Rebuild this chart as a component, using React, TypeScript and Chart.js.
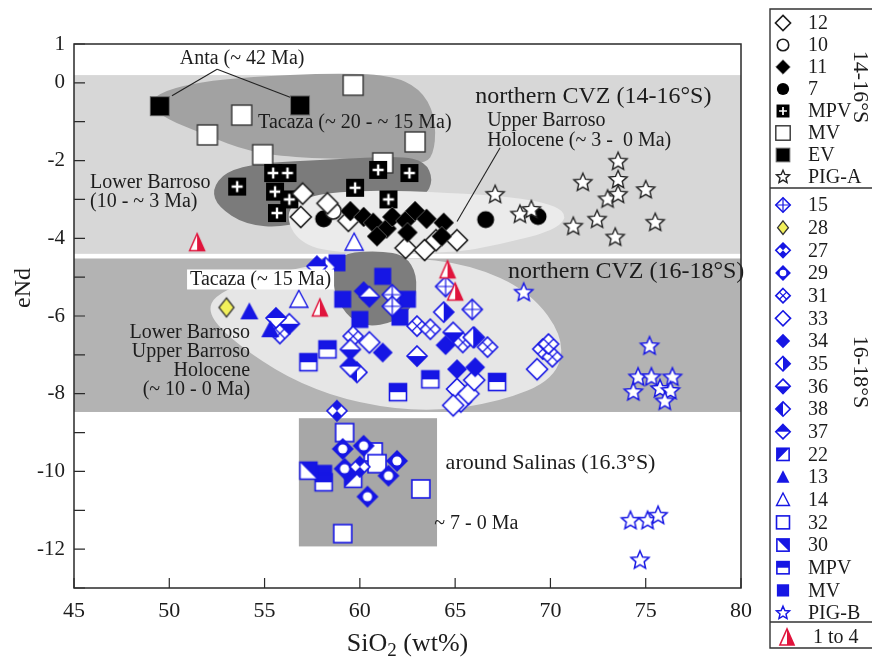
import React, { useEffect, useRef } from "react";
import { Chart, registerables } from "chart.js";
Chart.register(...registerables);

type Pt = [number, number];

const X_MIN = 45, X_MAX = 80, Y_MIN = -13, Y_MAX = 1;
const X_TICKS = [45, 50, 55, 60, 65, 70, 75, 80];
const Y_TICKS = [1, 0, -1, -2, -3, -4, -5, -6, -7, -8, -9, -10, -11, -12, -13];
const Y_TICK_LABELS = [1, 0, -2, -4, -6, -8, -10, -12];

// ---- 14-16°S ----
const S12: Pt[] = [[57.0, -2.85], [56.9, -3.45], [58.3, -3.1], [59.4, -3.55], [62.4, -4.25], [63.4, -4.3], [64.0, -4.05], [65.1, -4.05]];
const S10: Pt[] = [[58.6, -3.3]];
const S11: Pt[] = [[59.5, -3.3], [60.2, -3.45], [60.7, -3.6], [61.4, -3.75], [61.7, -3.45], [62.4, -3.55], [62.5, -3.85], [62.9, -3.3], [63.5, -3.5], [64.4, -3.6], [64.3, -3.95], [60.9, -3.95]];
const S7: Pt[] = [[58.1, -3.5], [66.6, -3.52], [69.35, -3.44]];
const MPV_A: Pt[] = [[53.56, -2.67], [55.45, -2.32], [56.2, -2.32], [55.55, -2.8], [56.3, -3.0], [55.65, -3.35], [59.75, -2.7], [60.96, -2.24], [61.5, -3.0], [62.6, -2.32]];
const MV_A: Pt[] = [[59.65, -0.06], [53.8, -0.83], [52.0, -1.34], [54.9, -1.85], [61.2, -2.06], [62.9, -1.52]];
const EV_A: Pt[] = [[49.5, -0.6], [56.86, -0.58]];
const PIG_A: Pt[] = [[67.1, -2.88], [68.4, -3.39], [69.0, -3.27], [71.7, -2.57], [71.2, -3.7], [72.45, -3.52], [73.55, -2.03], [73.55, -2.5], [73.0, -3.0], [73.55, -2.88], [75.0, -2.76], [75.5, -3.6], [73.4, -3.98]];

// ---- 16-18°S ----
const S15: Pt[] = [[61.7, -5.45], [61.7, -5.75], [64.5, -5.24], [65.9, -5.83]];
const S28: Pt[] = [[53.0, -5.78]];
const S27: Pt[] = [[58.8, -8.44], [60.0, -9.88]];
const S29: Pt[] = [[59.1, -9.42], [60.2, -9.34], [59.2, -9.93], [61.95, -9.73], [61.5, -10.11], [60.4, -10.65]];
const S31: Pt[] = [[55.8, -6.45], [59.65, -6.52], [63.0, -6.26], [63.7, -6.34], [65.4, -6.68], [66.0, -6.55], [66.7, -6.8], [69.6, -6.85], [70.1, -7.05], [69.9, -6.72]];
const S33: Pt[] = [[60.5, -6.68], [69.3, -7.37], [65.1, -7.88], [65.3, -8.2], [65.7, -8.0], [66.0, -7.65], [64.9, -8.3]];
const S34: Pt[] = [[60.2, -5.36], [61.2, -6.94], [65.1, -7.37], [66.05, -7.32], [64.5, -6.75]];
const S35: Pt[] = [[64.4, -5.9], [65.95, -6.55]];
const S36: Pt[] = [[60.5, -5.5], [59.5, -6.86], [63.0, -7.03], [64.9, -6.42], [56.3, -6.2]];
const S38: Pt[] = [[59.85, -7.45], [58.2, -4.75]];
const S37: Pt[] = [[57.75, -4.72], [59.5, -7.3], [55.6, -6.05]];
const S22: Pt[] = [[59.65, -10.19]];
const S13: Pt[] = [[54.2, -5.88], [55.3, -6.34]];
const S14: Pt[] = [[56.8, -5.57], [59.7, -4.1]];
const S32: Pt[] = [[59.2, -9.0], [60.7, -9.5], [60.9, -9.8], [63.2, -10.45], [59.1, -11.6]];
const S30: Pt[] = [[57.3, -9.98]];
const MPV_B: Pt[] = [[57.3, -7.19], [58.3, -6.86], [63.7, -7.63], [62.0, -7.96], [67.2, -7.7], [58.1, -10.28]];
const MV_B: Pt[] = [[58.8, -4.63], [61.2, -4.98], [59.1, -5.57], [60.0, -6.09], [62.5, -5.57], [62.1, -6.03], [58.1, -10.05]];
const PIG_B: Pt[] = [[68.6, -5.4], [75.2, -6.78], [74.6, -7.58], [75.3, -7.58], [76.4, -7.58], [74.35, -7.96], [75.75, -7.88], [76.3, -7.93], [76.0, -8.2], [74.2, -11.27], [75.1, -11.27], [75.65, -11.14], [74.7, -12.29]];
const RED_1_4: Pt[] = [[51.46, -4.1], [64.6, -4.8], [65.0, -5.37], [57.9, -5.78]];

// ---- field outlines (data units) ----
const BAND_NORTH: Pt[] = [[45, 0.2], [80, 0.2], [80, -4.4], [45, -4.4]];
const BAND_SOUTH: Pt[] = [[45, -4.52], [80, -4.52], [80, -8.47], [45, -8.47]];
const SALINAS_BOX: Pt[] = [[56.8, -8.63], [64.05, -8.63], [64.05, -11.93], [56.8, -11.93]];
const TACAZA_OLD: Pt[] = [[48.83, -0.52], [49.78, -0.19], [51.61, 0.02], [54.24, 0.15], [58.44, 0.25], [61.59, 0.2], [63.16, -0.14], [63.95, -0.83], [63.95, -1.73], [63.43, -2.11], [61.06, -1.98], [56.86, -1.93], [54.24, -1.78], [51.88, -1.34], [49.78, -0.91]];
const LOWER_BARROSO: Pt[] = [[52.24, -2.75], [52.93, -2.29], [54.76, -2.06], [58.44, -1.98], [62.11, -1.88], [63.43, -2.03], [63.85, -2.49], [63.43, -2.93], [61.59, -3.14], [58.44, -3.32], [56.08, -3.73], [53.98, -3.65], [52.56, -3.19]];
const UPPER_BARROSO: Pt[] = [[56.08, -3.27], [57.39, -2.88], [60.54, -2.75], [64.74, -2.83], [67.89, -2.93], [70.25, -3.14], [70.93, -3.47], [69.99, -3.83], [67.36, -4.16], [64.74, -4.39], [58.44, -4.39], [56.6, -4.03]];
const SOUTH_FIELD: Pt[] = [[52.03, -5.7], [52.93, -5.32], [55.29, -4.93], [58.44, -4.6], [62.11, -4.47], [65.79, -4.67], [68.94, -5.37], [70.77, -6.6], [70.25, -7.63], [67.36, -8.21], [63.69, -8.47], [60.01, -8.26], [56.86, -7.75], [54.24, -6.98], [52.4, -6.21]];
const TACAZA_YOUNG: Pt[] = [[58.6, -4.67], [59.23, -4.37], [61.06, -4.32], [62.38, -4.44], [63.01, -4.93], [62.9, -5.7], [61.85, -6.16], [60.28, -6.29], [59.23, -5.96], [58.6, -5.32]];

const FONT = '"Liberation Serif", "Times New Roman", serif';
const BLUE = "#1616e4";
const RED = "#e0143c";
const INK = "#1c1c1c";

function diamond(ctx: CanvasRenderingContext2D, cx: number, cy: number, rx: number, ry: number) {
  ctx.beginPath();
  ctx.moveTo(cx, cy - ry);
  ctx.lineTo(cx + rx, cy);
  ctx.lineTo(cx, cy + ry);
  ctx.lineTo(cx - rx, cy);
  ctx.closePath();
}
function starPath(ctx: CanvasRenderingContext2D, cx: number, cy: number, R: number, r: number) {
  ctx.beginPath();
  for (let i = 0; i < 10; i++) {
    const a = -Math.PI / 2 + (i * Math.PI) / 5;
    const rr = i % 2 === 0 ? R : r;
    const x = cx + rr * Math.cos(a), y = cy + rr * Math.sin(a);
    if (i === 0) ctx.moveTo(x, y); else ctx.lineTo(x, y);
  }
  ctx.closePath();
}
function halfDiamond(ctx: CanvasRenderingContext2D, cx: number, cy: number, r: number, side: string) {
  diamond(ctx, cx, cy, r, r);
  ctx.fillStyle = "#fff";
  ctx.fill();
  ctx.save();
  diamond(ctx, cx, cy, r, r);
  ctx.clip();
  ctx.fillStyle = BLUE;
  if (side === "right") ctx.fillRect(cx, cy - r, r, 2 * r);
  if (side === "left") ctx.fillRect(cx - r, cy - r, r, 2 * r);
  if (side === "top") ctx.fillRect(cx - r, cy - r, 2 * r, r);
  if (side === "bottom") ctx.fillRect(cx - r, cy, 2 * r, r);
  ctx.restore();
  diamond(ctx, cx, cy, r, r);
  ctx.strokeStyle = BLUE;
  ctx.stroke();
}

function drawMarker(ctx: CanvasRenderingContext2D, kind: string, cx: number, cy: number, k = 1) {
  ctx.save();
  ctx.lineJoin = "miter";
  ctx.lineWidth = 1.6;
  const r = 10 * k;
  switch (kind) {
    case "k12":
      diamond(ctx, cx, cy, 10.5 * k, 10.5 * k);
      ctx.fillStyle = "#fff"; ctx.fill();
      ctx.strokeStyle = INK; ctx.stroke();
      break;
    case "k10":
      ctx.beginPath(); ctx.arc(cx, cy, 8 * k, 0, Math.PI * 2);
      ctx.fillStyle = "#fff"; ctx.fill(); ctx.strokeStyle = INK; ctx.stroke();
      break;
    case "k11":
      diamond(ctx, cx, cy, 10 * k, 10 * k);
      ctx.fillStyle = "#000"; ctx.fill();
      ctx.strokeStyle = "#555"; ctx.lineWidth = 1; ctx.stroke();
      break;
    case "k7":
      ctx.beginPath(); ctx.arc(cx, cy, 8.5 * k, 0, Math.PI * 2);
      ctx.fillStyle = "#000"; ctx.fill();
      break;
    case "kMPV": {
      const s = 18 * k;
      ctx.fillStyle = "#000"; ctx.fillRect(cx - s / 2, cy - s / 2, s, s);
      ctx.strokeStyle = "#fff"; ctx.lineWidth = 2.4 * k;
      ctx.beginPath();
      ctx.moveTo(cx - 5.5 * k, cy); ctx.lineTo(cx + 5.5 * k, cy);
      ctx.moveTo(cx, cy - 5.5 * k); ctx.lineTo(cx, cy + 5.5 * k);
      ctx.stroke();
      break;
    }
    case "kMV": {
      const s = 20 * k;
      ctx.fillStyle = "#fff"; ctx.fillRect(cx - s / 2, cy - s / 2, s, s);
      ctx.strokeStyle = "#333"; ctx.lineWidth = 1.4; ctx.strokeRect(cx - s / 2, cy - s / 2, s, s);
      break;
    }
    case "kEV": {
      const s = 19 * k;
      ctx.fillStyle = "#000"; ctx.fillRect(cx - s / 2, cy - s / 2, s, s);
      ctx.strokeStyle = "#666"; ctx.lineWidth = 1; ctx.strokeRect(cx - s / 2, cy - s / 2, s, s);
      break;
    }
    case "kPIG":
      starPath(ctx, cx, cy, 9.5 * k, 4.4 * k);
      ctx.fillStyle = "#fff"; ctx.fill(); ctx.strokeStyle = "#222"; ctx.lineWidth = 1.4; ctx.stroke();
      break;
    case "b15":
      diamond(ctx, cx, cy, r, r);
      ctx.fillStyle = "#fff"; ctx.fill(); ctx.strokeStyle = BLUE; ctx.stroke();
      ctx.lineWidth = 1.2;
      ctx.beginPath();
      ctx.moveTo(cx - r, cy); ctx.lineTo(cx + r, cy);
      ctx.moveTo(cx, cy - r); ctx.lineTo(cx, cy + r);
      ctx.stroke();
      break;
    case "b28":
      diamond(ctx, cx, cy, 7.5 * k, 9.5 * k);
      ctx.fillStyle = "#f2f05a"; ctx.fill(); ctx.strokeStyle = "#333"; ctx.lineWidth = 1.3; ctx.stroke();
      break;
    case "b27":
      diamond(ctx, cx, cy, r, r);
      ctx.fillStyle = "#fff"; ctx.fill();
      ctx.fillStyle = BLUE;
      ctx.beginPath();
      ctx.moveTo(cx, cy); ctx.lineTo(cx - r / 2, cy - r / 2); ctx.lineTo(cx, cy - r); ctx.lineTo(cx + r / 2, cy - r / 2); ctx.closePath();
      ctx.moveTo(cx, cy); ctx.lineTo(cx - r / 2, cy + r / 2); ctx.lineTo(cx, cy + r); ctx.lineTo(cx + r / 2, cy + r / 2); ctx.closePath();
      ctx.fill();
      diamond(ctx, cx, cy, r, r);
      ctx.strokeStyle = BLUE; ctx.stroke();
      break;
    case "b29":
      diamond(ctx, cx, cy, 11 * k, 11 * k);
      ctx.fillStyle = BLUE; ctx.fill();
      ctx.beginPath(); ctx.arc(cx, cy, 4.6 * k, 0, Math.PI * 2);
      ctx.fillStyle = "#fff"; ctx.fill();
      break;
    case "b31":
      diamond(ctx, cx, cy, r, r);
      ctx.fillStyle = "#fff"; ctx.fill(); ctx.strokeStyle = BLUE; ctx.stroke();
      ctx.lineWidth = 1.2;
      ctx.beginPath();
      ctx.moveTo(cx - r / 2, cy - r / 2); ctx.lineTo(cx + r / 2, cy + r / 2);
      ctx.moveTo(cx + r / 2, cy - r / 2); ctx.lineTo(cx - r / 2, cy + r / 2);
      ctx.stroke();
      break;
    case "b33":
      diamond(ctx, cx, cy, 10.5 * k, 10.5 * k);
      ctx.fillStyle = "#fff"; ctx.fill(); ctx.strokeStyle = BLUE; ctx.stroke();
      break;
    case "b34":
      diamond(ctx, cx, cy, r, r);
      ctx.fillStyle = BLUE; ctx.fill();
      break;
    case "b35": halfDiamond(ctx, cx, cy, r, "right"); break;
    case "b36": halfDiamond(ctx, cx, cy, r, "bottom"); break;
    case "b38": halfDiamond(ctx, cx, cy, r, "left"); break;
    case "b37": halfDiamond(ctx, cx, cy, r, "top"); break;
    case "b22":
    case "b30": {
      const s = 17 * k, x0 = cx - s / 2, y0 = cy - s / 2;
      ctx.fillStyle = "#fff"; ctx.fillRect(x0, y0, s, s);
      ctx.fillStyle = BLUE;
      ctx.beginPath();
      if (kind === "b22") { ctx.moveTo(x0, y0); ctx.lineTo(x0 + s, y0); ctx.lineTo(x0, y0 + s); }
      else { ctx.moveTo(x0, y0); ctx.lineTo(x0 + s, y0); ctx.lineTo(x0 + s, y0 + s); }
      ctx.closePath(); ctx.fill();
      ctx.strokeStyle = BLUE; ctx.strokeRect(x0, y0, s, s);
      break;
    }
    case "b13":
    case "b14": {
      const w = 18 * k, h = 16 * k;
      ctx.beginPath(); ctx.moveTo(cx, cy - h / 2 - 1); ctx.lineTo(cx + w / 2, cy + h / 2); ctx.lineTo(cx - w / 2, cy + h / 2); ctx.closePath();
      if (kind === "b13") { ctx.fillStyle = BLUE; ctx.fill(); }
      else { ctx.fillStyle = "#fff"; ctx.fill(); ctx.strokeStyle = BLUE; ctx.lineWidth = 1.4; ctx.stroke(); }
      break;
    }
    case "b32": {
      const s = 18 * k;
      ctx.fillStyle = "#fff"; ctx.fillRect(cx - s / 2, cy - s / 2, s, s);
      ctx.strokeStyle = BLUE; ctx.strokeRect(cx - s / 2, cy - s / 2, s, s);
      break;
    }
    case "bMPV": {
      const s = 17 * k;
      ctx.fillStyle = "#fff"; ctx.fillRect(cx - s / 2, cy - s / 2, s, s);
      ctx.fillStyle = BLUE; ctx.fillRect(cx - s / 2, cy - s / 2, s, s / 2);
      ctx.strokeStyle = BLUE; ctx.strokeRect(cx - s / 2, cy - s / 2, s, s);
      break;
    }
    case "bMV": {
      const s = 17 * k;
      ctx.fillStyle = BLUE; ctx.fillRect(cx - s / 2, cy - s / 2, s, s);
      break;
    }
    case "bPIG":
      starPath(ctx, cx, cy, 9.5 * k, 4.4 * k);
      ctx.fillStyle = "#fff"; ctx.fill(); ctx.strokeStyle = BLUE; ctx.lineWidth = 1.5; ctx.stroke();
      break;
    case "r14": {
      const w = 15 * k, h = 17 * k;
      const top = cy - h / 2, bot = cy + h / 2;
      ctx.beginPath(); ctx.moveTo(cx, top); ctx.lineTo(cx + w / 2, bot); ctx.lineTo(cx - w / 2, bot); ctx.closePath();
      ctx.fillStyle = "#fff"; ctx.fill();
      ctx.beginPath(); ctx.moveTo(cx, top); ctx.lineTo(cx + w / 2, bot); ctx.lineTo(cx, bot); ctx.closePath();
      ctx.fillStyle = RED; ctx.fill();
      ctx.beginPath(); ctx.moveTo(cx, top); ctx.lineTo(cx + w / 2, bot); ctx.lineTo(cx - w / 2, bot); ctx.closePath();
      ctx.strokeStyle = RED; ctx.lineWidth = 1.5; ctx.stroke();
      break;
    }
  }
  ctx.restore();
}

function markerImage(kind: string) {
  const c = document.createElement("canvas");
  c.width = 30; c.height = 30;
  const g = c.getContext("2d")!;
  drawMarker(g, kind, 15, 15);
  return c;
}

// draw order: first listed = bottom
const SERIES: { kind: string; label: string; pts: Pt[] }[] = [
  { kind: "kMV", label: "MV", pts: MV_A },
  { kind: "kEV", label: "EV", pts: EV_A },
  { kind: "kMPV", label: "MPV", pts: MPV_A },
  { kind: "k7", label: "7", pts: S7 },
  { kind: "k10", label: "10", pts: S10 },
  { kind: "k12", label: "12", pts: S12 },
  { kind: "k11", label: "11", pts: S11 },
  { kind: "kPIG", label: "PIG-A", pts: PIG_A },
  { kind: "bMV", label: "MV", pts: MV_B },
  { kind: "bMPV", label: "MPV", pts: MPV_B },
  { kind: "b32", label: "32", pts: S32 },
  { kind: "b30", label: "30", pts: S30 },
  { kind: "b22", label: "22", pts: S22 },
  { kind: "b33", label: "33", pts: S33 },
  { kind: "b31", label: "31", pts: S31 },
  { kind: "b34", label: "34", pts: S34 },
  { kind: "b35", label: "35", pts: S35 },
  { kind: "b36", label: "36", pts: S36 },
  { kind: "b38", label: "38", pts: S38 },
  { kind: "b37", label: "37", pts: S37 },
  { kind: "b15", label: "15", pts: S15 },
  { kind: "b29", label: "29", pts: S29 },
  { kind: "b27", label: "27", pts: S27 },
  { kind: "b28", label: "28", pts: S28 },
  { kind: "b13", label: "13", pts: S13 },
  { kind: "b14", label: "14", pts: S14 },
  { kind: "bPIG", label: "PIG-B", pts: PIG_B },
  { kind: "r14", label: "1 to 4", pts: RED_1_4 },
];

const LEGEND_A: [string, string][] = [["k12", "12"], ["k10", "10"], ["k11", "11"], ["k7", "7"], ["kMPV", "MPV"], ["kMV", "MV"], ["kEV", "EV"], ["kPIG", "PIG-A"]];
const LEGEND_B: [string, string][] = [["b15", "15"], ["b28", "28"], ["b27", "27"], ["b29", "29"], ["b31", "31"], ["b33", "33"], ["b34", "34"], ["b35", "35"], ["b36", "36"], ["b38", "38"], ["b37", "37"], ["b22", "22"], ["b13", "13"], ["b14", "14"], ["b32", "32"], ["b30", "30"], ["bMPV", "MPV"], ["bMV", "MV"], ["bPIG", "PIG-B"]];

function smoothShape(ctx: CanvasRenderingContext2D, pts: number[][]) {
  const n = pts.length;
  ctx.beginPath();
  const mid = (a: number[], b: number[]) => [(a[0] + b[0]) / 2, (a[1] + b[1]) / 2];
  const m0 = mid(pts[n - 1], pts[0]);
  ctx.moveTo(m0[0], m0[1]);
  for (let i = 0; i < n; i++) {
    const p = pts[i], m = mid(p, pts[(i + 1) % n]);
    ctx.quadraticCurveTo(p[0], p[1], m[0], m[1]);
  }
  ctx.closePath();
}

const fieldsPlugin = {
  id: "fields",
  beforeDraw(chart: any) {
    const { ctx, width, height } = chart;
    ctx.save(); ctx.fillStyle = "#fff"; ctx.fillRect(0, 0, width, height); ctx.restore();
  },
  beforeDatasetsDraw(chart: any) {
    const { ctx, chartArea: a, scales } = chart;
    const X = (v: number) => scales.x.getPixelForValue(v);
    const Y = (v: number) => scales.y.getPixelForValue(v);
    const toPx = (p: Pt[]) => p.map(([x, y]) => [X(x), Y(y)]);
    ctx.save();
    ctx.beginPath(); ctx.rect(a.left, a.top, a.right - a.left, a.bottom - a.top); ctx.clip();
    const rect = (p: Pt[], col: string) => {
      const q = toPx(p);
      ctx.fillStyle = col;
      ctx.fillRect(q[0][0], q[0][1], q[2][0] - q[0][0], q[2][1] - q[0][1]);
    };
    const blob = (p: Pt[], col: string) => { smoothShape(ctx, toPx(p)); ctx.fillStyle = col; ctx.fill(); };
    rect(BAND_NORTH, "#d7d7d7");
    rect(BAND_SOUTH, "#b3b3b3");
    rect(SALINAS_BOX, "#a7a7a7");
    blob(TACAZA_OLD, "#a2a2a2");
    blob(LOWER_BARROSO, "#7b7b7b");
    ctx.save();
    const bn = toPx(BAND_NORTH);
    ctx.beginPath(); ctx.rect(bn[0][0], bn[0][1], bn[2][0] - bn[0][0], bn[2][1] - bn[0][1]); ctx.clip();
    blob(UPPER_BARROSO, "#ebebeb");
    ctx.restore();
    ctx.save();
    const bs = toPx(BAND_SOUTH);
    ctx.beginPath(); ctx.rect(bs[0][0], bs[0][1], bs[2][0] - bs[0][0], bs[2][1] - bs[0][1]); ctx.clip();
    blob(SOUTH_FIELD, "#e6e6e6");
    ctx.restore();
    blob(TACAZA_YOUNG, "#7d7d7d");
    ctx.restore();
  },
  afterDatasetsDraw(chart: any) {
    const { ctx, scales } = chart;
    const X = (v: number) => scales.x.getPixelForValue(v);
    const Y = (v: number) => scales.y.getPixelForValue(v);
    ctx.save();
    ctx.fillStyle = INK;
    ctx.strokeStyle = "#222";
    ctx.lineWidth = 1.1;
    ctx.textBaseline = "middle";
    const txt = (s: string, x: number, y: number, size = 20, align: CanvasTextAlign = "left") => {
      ctx.font = `${size}px ${FONT}`; ctx.textAlign = align; ctx.fillText(s, X(x), Y(y));
    };
    const line = (x1: number, y1: number, x2: number, y2: number) => {
      ctx.beginPath(); ctx.moveTo(X(x1), Y(y1)); ctx.lineTo(X(x2), Y(y2)); ctx.stroke();
    };
    txt("Anta (~ 42 Ma)", 53.82, 0.63, 20, "center");
    line(52.51, 0.35, 50.14, -0.33);
    line(52.51, 0.35, 56.34, -0.37);
    txt("Tacaza (~ 20 - ~ 15 Ma)", 54.66, -1.03);
    txt("northern CVZ (14-16°S)", 66.05, -0.36, 24);
    txt("Upper Barroso", 66.68, -0.98);
    txt("Holocene (~ 3 -  0 Ma)", 66.68, -1.5);
    line(67.36, -1.67, 65.1, -3.57);
    txt("Lower Barroso", 45.84, -2.58);
    txt("(10 - ~ 3 Ma)", 45.84, -3.06);
    txt("northern CVZ (16-18°S)", 67.78, -4.86, 24);
    // white label box
    ctx.font = `20px ${FONT}`;
    const lab = "Tacaza (~ 15 Ma)";
    const w = ctx.measureText(lab).width;
    ctx.fillStyle = "#fff";
    ctx.fillRect(X(51.09) - 3, Y(-5.06) - 10, w + 6, 20);
    ctx.fillStyle = INK;
    txt(lab, 51.09, -5.06);
    txt("Lower Barroso", 54.24, -6.42, 20, "right");
    txt("Upper Barroso", 54.24, -6.91, 20, "right");
    txt("Holocene", 54.24, -7.4, 20, "right");
    txt("(~ 10 - 0 Ma)", 54.24, -7.89, 20, "right");
    txt("around Salinas (16.3°S)", 64.5, -9.8, 22);
    txt("~ 7 - 0 Ma", 63.9, -11.35, 20);
    ctx.restore();
  },
  afterDraw(chart: any) {
    const { ctx, chartArea: a, scales } = chart;
    ctx.save();
    // frame
    ctx.strokeStyle = "#2a2a2a"; ctx.lineWidth = 1.5;
    ctx.strokeRect(a.left, a.top, a.right - a.left, a.bottom - a.top);
    // inward tick marks
    ctx.lineWidth = 1.2;
    ctx.beginPath();
    for (const v of X_TICKS) { const x = scales.x.getPixelForValue(v); ctx.moveTo(x, a.bottom); ctx.lineTo(x, a.bottom - 10); }
    for (const v of Y_TICKS) { const y = scales.y.getPixelForValue(v); ctx.moveTo(a.left, y); ctx.lineTo(a.left + 11, y); }
    ctx.stroke();
    // axis titles
    ctx.fillStyle = INK; ctx.textBaseline = "alphabetic";
    const p1 = "SiO", p3 = " (wt%)";
    ctx.font = `26px ${FONT}`; const w1 = ctx.measureText(p1).width, w3 = ctx.measureText(p3).width;
    ctx.font = `19px ${FONT}`; const w2 = ctx.measureText("2").width;
    const x0 = (a.left + a.right) / 2 - (w1 + w2 + w3) / 2;
    const by = 651;
    ctx.textAlign = "left";
    ctx.font = `26px ${FONT}`; ctx.fillText(p1, x0, by);
    ctx.font = `19px ${FONT}`; ctx.fillText("2", x0 + w1, by + 5);
    ctx.font = `26px ${FONT}`; ctx.fillText(p3, x0 + w1 + w2, by);
    ctx.save();
    ctx.translate(24, 288); ctx.rotate(-Math.PI / 2);
    ctx.font = `24px ${FONT}`; ctx.textAlign = "center"; ctx.textBaseline = "middle";
    ctx.fillText("eNd", 0, 0);
    ctx.restore();
    // legend
    const L = 770, T = 9;
    ctx.strokeStyle = "#333"; ctx.lineWidth = 1.4;
    ctx.beginPath();
    ctx.moveTo(890, T); ctx.lineTo(L, T); ctx.lineTo(L, 648); ctx.lineTo(890, 648);
    ctx.moveTo(L, 188); ctx.lineTo(890, 188);
    ctx.moveTo(L, 622); ctx.lineTo(890, 622);
    ctx.stroke();
    ctx.font = `20px ${FONT}`; ctx.textAlign = "left"; ctx.textBaseline = "middle"; ctx.fillStyle = INK;
    LEGEND_A.forEach(([k, s], i) => { const y = 23 + i * 22; drawMarker(ctx, k, 783, y, 0.72); ctx.fillText(s, 808, y + 1); });
    LEGEND_B.forEach(([k, s], i) => { const y = 205 + i * 22.67; drawMarker(ctx, k, 783, y, 0.72); ctx.fillText(s, 808, y + 1); });
    drawMarker(ctx, "r14", 787, 637, 0.95);
    ctx.fillText("1 to 4", 813, 638);
    ctx.font = `22px ${FONT}`; ctx.textAlign = "center";
    for (const [s, cy] of [["14-16°S", 87], ["16-18°S", 372]] as [string, number][]) {
      ctx.save(); ctx.translate(860, cy); ctx.rotate(Math.PI / 2); ctx.fillText(s, 0, 0); ctx.restore();
    }
    ctx.restore();
  },
};

export default function App() {
  const ref = useRef<HTMLCanvasElement>(null);
  useEffect(() => {
    document.body.style.margin = "0";
    const canvas = ref.current!;
    const chart = new Chart(canvas, {
      type: "scatter",
      data: {
        datasets: SERIES.slice().reverse().map((s) => ({
          label: s.label,
          data: s.pts.map(([x, y]) => ({ x, y })),
          pointStyle: markerImage(s.kind) as any,
          pointRadius: 10,
          showLine: false,
        })),
      },
      options: {
        responsive: false,
        animation: false,
        events: [],
        layout: { padding: { left: 0, top: 44, right: 131, bottom: 0 } },
        plugins: { legend: { display: false }, tooltip: { enabled: false }, title: { display: false } },
        scales: {
          x: {
            type: "linear", min: X_MIN, max: X_MAX,
            afterFit: (s: any) => { s.height = 74; },
            afterBuildTicks: (s: any) => { s.ticks = X_TICKS.map((v) => ({ value: v })); },
            grid: { display: false, drawTicks: false }, border: { display: false },
            ticks: { font: { family: FONT, size: 22 }, color: INK, padding: 10, maxRotation: 0, autoSkip: false },
          },
          y: {
            type: "linear", min: Y_MIN, max: Y_MAX,
            afterFit: (s: any) => { s.width = 74; },
            afterBuildTicks: (s: any) => { s.ticks = Y_TICKS.map((v) => ({ value: v })); },
            grid: { display: false, drawTicks: false }, border: { display: false },
            ticks: {
              font: { family: FONT, size: 21 }, color: INK, padding: 9, autoSkip: false,
              callback: (v: any) => (Y_TICK_LABELS.includes(Number(v)) ? String(v) : ""),
            },
          },
        },
      } as any,
      plugins: [fieldsPlugin],
    });
    return () => chart.destroy();
  }, []);
  return <canvas ref={ref} width={872} height={662} style={{ display: "block" }} />;
}
